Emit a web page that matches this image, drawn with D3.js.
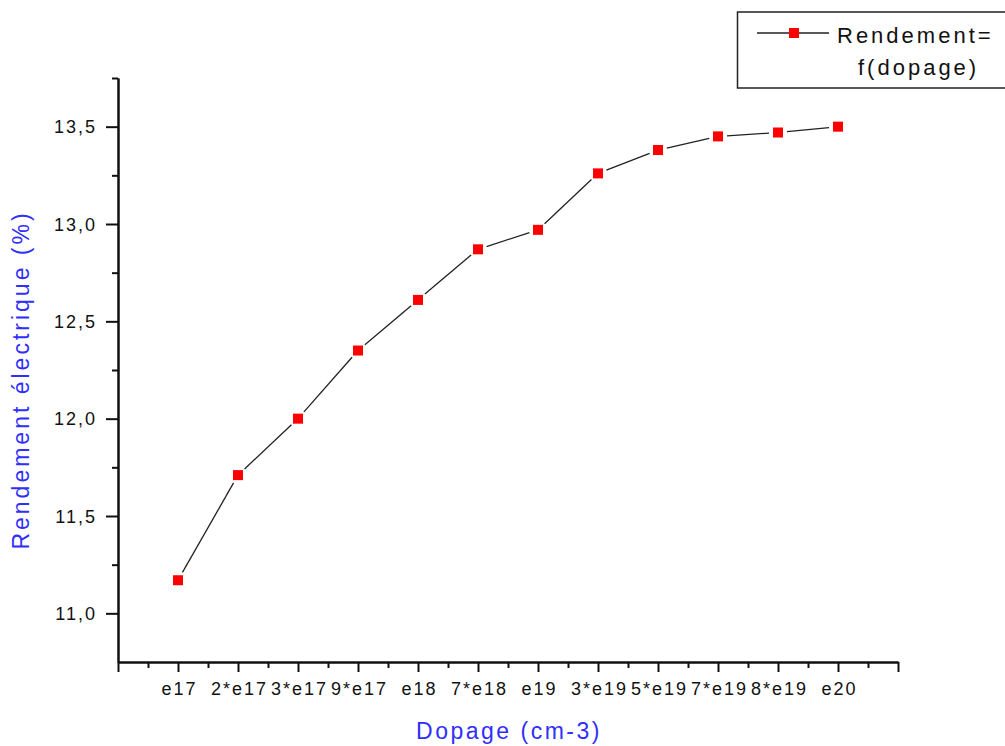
<!DOCTYPE html>
<html>
<head>
<meta charset="utf-8">
<script src="https://cdn.jsdelivr.net/npm/d3@7"></script>
<style>
  body { margin: 0; background: #fff; }
  svg { display: block; font-family: Arial, "Liberation Sans", sans-serif; }
  .axis path, .axis line { stroke: #111; stroke-width: 2px; }
  .axis text { fill: #111; font-size: 18px; letter-spacing: 2px; }
  .title { fill: #2f2fff; font-size: 23px; }
</style>
</head>
<body>
<svg id="chart" width="1005" height="746"></svg>
<script>
// doping levels (category labels on x)
let categories = ['e17', '2*e17', '3*e17', '9*e17', 'e18', '7*e18', 'e19', '3*e19', '5*e19', '7*e19', '8*e19', 'e20'];
// rendement electrique (%)
let rendement = [11.17, 11.71, 12.00, 12.35, 12.61, 12.87, 12.97, 13.26, 13.38, 13.45, 13.47, 13.50];

let xMajor = [-1, 0, 1, 2, 3, 4, 5, 6, 7, 8, 9, 10, 11, 12];
let xMinor = [-0.5, 0.5, 1.5, 2.5, 3.5, 4.5, 5.5, 6.5, 7.5, 8.5, 9.5, 10.5, 11.5];
let yMajor = [11.0, 11.5, 12.0, 12.5, 13.0, 13.5];
let yMinor = [11.25, 11.75, 12.25, 12.75, 13.25, 13.75];

let svg = d3.select('#chart');

let x = d3.scaleLinear().domain([-1, 12]).range([118, 898]);
let y = d3.scaleLinear().domain([10.75, 13.75]).range([662, 78]);

// minor ticks first
svg.append('g')
	.attr('class', 'axis')
	.attr('transform', 'translate(0,662)')
	.call(d3.axisBottom(x).tickValues(xMinor).tickSize(6).tickSizeOuter(0).tickFormat(''));
svg.append('g')
	.attr('class', 'axis')
	.attr('transform', 'translate(118,0)')
	.call(d3.axisLeft(y).tickValues(yMinor).tickSize(6).tickSizeOuter(0).tickFormat(''));

// major ticks + labels
let xAxis = svg.append('g')
	.attr('class', 'axis')
	.attr('transform', 'translate(0,662)')
	.call(d3.axisBottom(x).tickValues(xMajor).tickSize(10).tickSizeOuter(0)
		.tickFormat(function (i) { return categories[i] || ''; }));
xAxis.selectAll('text')
	.attr('y', 33)
	.attr('dy', 0)
	.attr('x', 1);

let yAxis = svg.append('g')
	.attr('class', 'axis')
	.attr('transform', 'translate(118,0)')
	.call(d3.axisLeft(y).tickValues(yMajor).tickSize(12).tickSizeOuter(0)
		.tickFormat(function (v) { return d3.format('.1f')(v).replace('.', ','); }));
yAxis.selectAll('text')
	.attr('x', -21)
	.attr('dy', '0.35em');

// connecting segments, stopped short of the markers
let pts = rendement.map(function (v, i) { return [x(i), y(v)]; });
let gap = 9;
let segs = [];
for (let i = 0; i < pts.length - 1; i++) {
	let a = pts[i], b = pts[i + 1];
	let dx = b[0] - a[0], dy = b[1] - a[1];
	let len = Math.sqrt(dx * dx + dy * dy);
	let ux = dx / len, uy = dy / len;
	segs.push([a[0] + ux * gap, a[1] + uy * gap, b[0] - ux * gap, b[1] - uy * gap]);
}
svg.selectAll('.seg')
	.data(segs)
	.enter().append('line')
	.attr('class', 'seg')
	.attr('x1', function (d) { return d[0]; })
	.attr('y1', function (d) { return d[1]; })
	.attr('x2', function (d) { return d[2]; })
	.attr('y2', function (d) { return d[3]; })
	.attr('stroke', '#222')
	.attr('stroke-width', 1.3);

svg.selectAll('.pt')
	.data(rendement)
	.enter().append('rect')
	.attr('class', 'pt')
	.attr('x', function (d, i) { return x(i) - 5; })
	.attr('y', function (d) { return y(d) - 5; })
	.attr('width', 10)
	.attr('height', 10)
	.attr('fill', '#ff0000');

// axis titles
svg.append('text')
	.attr('class', 'title')
	.attr('x', 509)
	.attr('y', 739)
	.attr('text-anchor', 'middle')
	.attr('letter-spacing', '2.5px')
	.text('Dopage (cm-3)');

svg.append('text')
	.attr('class', 'title')
	.attr('transform', 'translate(29,380) rotate(-90)')
	.attr('text-anchor', 'middle')
	.attr('letter-spacing', '3px')
	.text('Rendement électrique (%)');

// legend
let legend = svg.append('g');
legend.append('rect')
	.attr('x', 737.5)
	.attr('y', 12)
	.attr('width', 290)
	.attr('height', 76)
	.attr('fill', 'none')
	.attr('stroke', '#222')
	.attr('stroke-width', 1.5);
legend.append('line')
	.attr('x1', 757).attr('y1', 33)
	.attr('x2', 829).attr('y2', 33)
	.attr('stroke', '#222')
	.attr('stroke-width', 1.5);
legend.append('rect')
	.attr('x', 789).attr('y', 28)
	.attr('width', 10).attr('height', 10)
	.attr('fill', '#ff0000');
legend.append('text')
	.attr('x', 837).attr('y', 43)
	.attr('font-size', 22)
	.attr('letter-spacing', '3px')
	.attr('fill', '#111')
	.text('Rendement=');
legend.append('text')
	.attr('x', 858).attr('y', 75)
	.attr('font-size', 22)
	.attr('letter-spacing', '3px')
	.attr('fill', '#111')
	.text('f(dopage)');
</script>
</body>
</html>
